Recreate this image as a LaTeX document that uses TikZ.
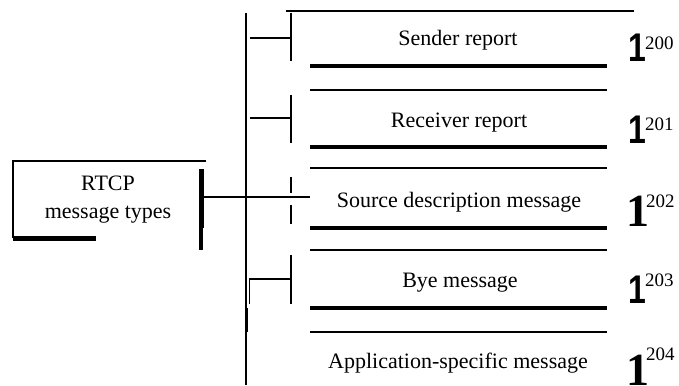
\documentclass[tikz,border=0pt]{standalone}
\usepackage{fontspec}
\setmainfont{Liberation Serif}
\newfontfamily\bigsans{Liberation Sans}
\begin{document}
\begin{tikzpicture}[x=1pt,y=-1pt,
  thinln/.style={line width=1.3pt},
  heavy/.style={line width=4.6pt},
  tick/.style={line width=1.9pt},
  lbl/.style={font=\fontsize{22}{27}\selectfont, inner sep=0pt, anchor=base},
  code/.style={font=\fontsize{19}{20}\selectfont, inner sep=0pt, anchor=west},
  onesans/.style={font=\bigsans\bfseries\fontsize{40}{40}\selectfont, inner sep=0pt, anchor=base east, xscale=0.8},
  oneserif/.style={font=\bfseries\fontsize{46}{46}\selectfont, inner sep=0pt, anchor=base east}]
\useasboundingbox (0,0) rectangle (679,385);

% RTCP box
\coordinate (bxTL) at (12,161);
\coordinate (bxTR) at (206,161);
\coordinate (bxBL) at (13,238);
\coordinate (bxBR) at (96,238);
\draw[thinln] (bxTL) -- (bxTR);
\draw[thinln] (13,161) -- (bxBL);
\draw[line width=5pt] (bxBL) -- (bxBR);
\node[font=\fontsize{22}{28}\selectfont, align=center, inner sep=0pt] (rtcp) at (108,200) {RTCP\\message types};
\coordinate (barT) at (201,169);
\coordinate (barM) at (201,228);
\coordinate (barB) at (201,250);
\draw[line width=5pt] (barT) -- (barM);
\draw[line width=3.6pt] (barM) -- (barB);
\coordinate (hub) at (201,197);
\coordinate (hubE) at (310,197);
\draw[thinln] (hub) -- (hubE);

% main vertical line
\coordinate (vT) at (246,13);
\coordinate (vB) at (246,385);
\draw[thinln] (vT) -- (vB);
\draw[line width=3pt] (246,308) -- (246,332);

% top line
\draw[thinln] (286,11) -- (634,11);

% row lines
\foreach \y in {66,147,228,308} \draw[heavy] (310,\y) -- (607,\y);
\foreach \y in {90,168,250,332} \draw[thinln] (310,\y) -- (607,\y);

% ticks
\draw[tick] (291,13) -- (291,61);
\draw[tick] (291,95) -- (291,143);
\draw[tick] (291,177) -- (291,193);
\draw[tick] (291,205) -- (291,224);
\draw[tick] (291,255) -- (291,304);

% branches
\draw[thinln] (250,38) -- (291,38);
\draw[thinln] (250,118) -- (291,118);
\draw[thinln] (249,279) -- (291,279);
\draw[line width=0.7pt] (249,279) -- (249,304);

% labels
\node[lbl] (sr) at (458,46) {Sender report};
\node[lbl] (rr) at (459,127) {Receiver report};
\node[lbl] (sd) at (459,207) {Source description message};
\node[lbl] (bye) at (460,287) {Bye message};
\node[lbl] (app) at (458,368) {Application-specific message};

% codes
\node[onesans] (o0) at (646,62) {1};
\node[code] (c0) at (645,43) {200};
\node[onesans] (o1) at (646,143) {1};
\node[code] (c1) at (645,124) {201};
\node[oneserif] (o2) at (650,226) {1};
\node[code] (c2) at (646,201) {202};
\node[onesans] (o3) at (646,303) {1};
\node[code] (c3) at (645,280) {203};
\node[oneserif] (o4) at (650,385) {1};
\node[code] (c4) at (646,354) {204};
\end{tikzpicture}
\end{document}
